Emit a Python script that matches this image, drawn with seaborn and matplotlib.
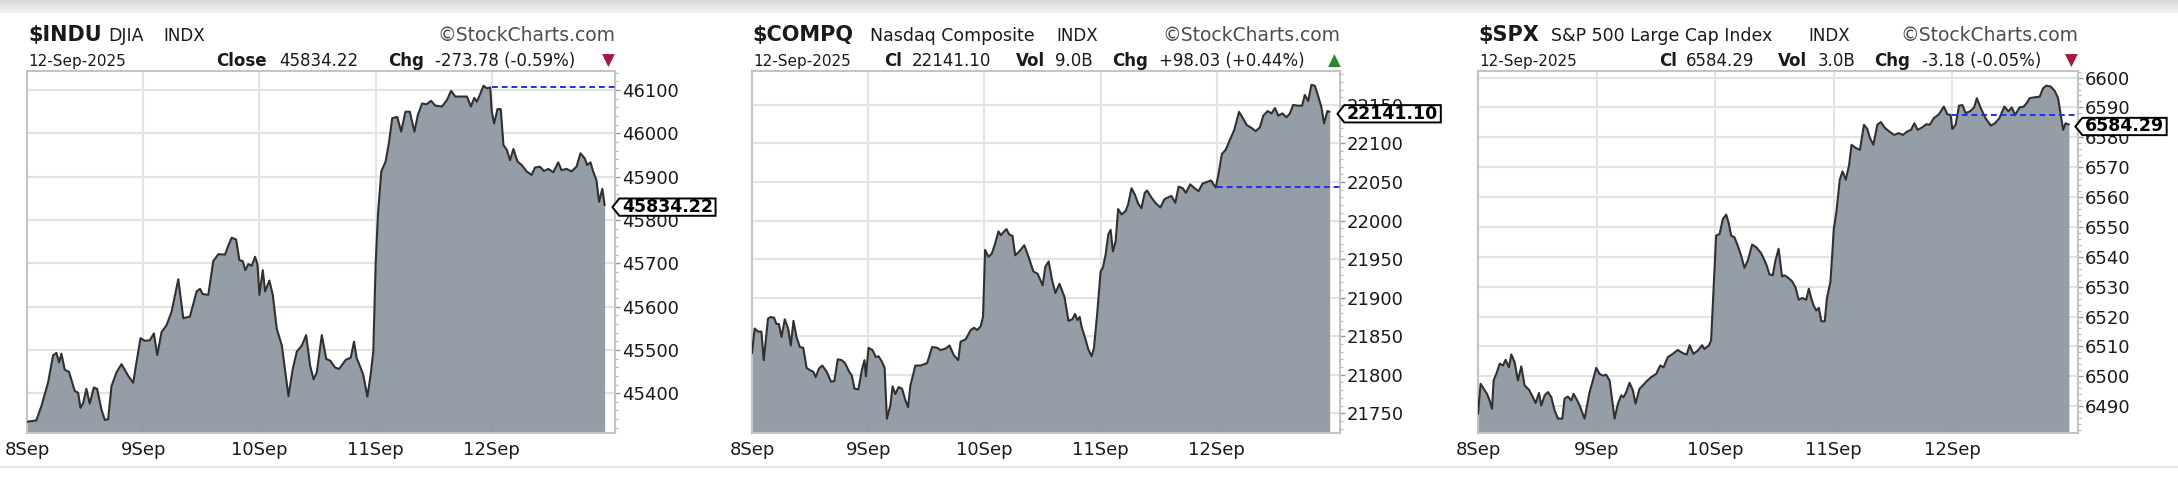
import matplotlib.pyplot as plt
import matplotlib.transforms as mtransforms
from matplotlib.path import Path
from matplotlib.lines import Line2D
from matplotlib.ticker import MultipleLocator, AutoMinorLocator, StrMethodFormatter
import numpy as np
import seaborn as sns

#%% data (x = trading days since 8 Sep open)
day_labels = ['8Sep', '9Sep', '10Sep', '11Sep', '12Sep']
date_str = '12-Sep-2025'

indu_t = [
    0.000, 0.080, 0.124, 0.181, 0.224, 0.253, 0.276, 0.296, 0.325, 0.362,
    0.411, 0.440, 0.460, 0.483, 0.511, 0.540, 0.575, 0.603, 0.641, 0.670,
    0.698, 0.727, 0.770, 0.813, 0.871, 0.914, 0.937, 0.977, 1.014, 1.057,
    1.092, 1.121, 1.158, 1.201, 1.244, 1.302, 1.345, 1.402, 1.460, 1.489,
    1.511, 1.560, 1.603, 1.647, 1.704, 1.733, 1.761, 1.799, 1.828, 1.856,
    1.879, 1.905, 1.934, 1.963, 1.983, 2.000, 2.029, 2.049, 2.086, 2.115,
    2.149, 2.193, 2.250, 2.287, 2.322, 2.365, 2.402, 2.437, 2.466, 2.494,
    2.537, 2.575, 2.609, 2.652, 2.686, 2.743, 2.786, 2.814, 2.837, 2.866,
    2.894, 2.929, 2.957, 2.980, 3.000, 3.020, 3.049, 3.086, 3.114, 3.143,
    3.186, 3.220, 3.257, 3.294, 3.334, 3.363, 3.400, 3.437, 3.477, 3.514,
    3.571, 3.614, 3.649, 3.686, 3.729, 3.786, 3.820, 3.849, 3.871, 3.894,
    3.929, 3.957, 3.986, 4.000, 4.020, 4.049, 4.077, 4.100, 4.129, 4.157,
    4.186, 4.220, 4.257, 4.300, 4.343, 4.371, 4.414, 4.449, 4.486, 4.529,
    4.571, 4.600, 4.643, 4.686, 4.729, 4.763, 4.800, 4.820, 4.849, 4.871,
    4.900, 4.923, 4.951, 4.971]
indu_px = [
    45334, 45337, 45370, 45424, 45487, 45493, 45471, 45491, 45454, 45449,
    45405, 45401, 45366, 45377, 45410, 45376, 45413, 45410, 45362, 45338,
    45340, 45416, 45448, 45467, 45440, 45424, 45463, 45527, 45521, 45522,
    45538, 45488, 45541, 45557, 45588, 45663, 45573, 45577, 45635, 45641,
    45629, 45627, 45705, 45721, 45720, 45741, 45759, 45755, 45707, 45705,
    45684, 45698, 45694, 45715, 45698, 45627, 45684, 45635, 45660, 45627,
    45549, 45510, 45393, 45456, 45496, 45510, 45534, 45463, 45432, 45448,
    45534, 45479, 45475, 45459, 45456, 45477, 45482, 45519, 45481, 45462,
    45442, 45392, 45442, 45496, 45696, 45812, 45912, 45935, 45977, 46035,
    46038, 46004, 46050, 46050, 46004, 46042, 46069, 46067, 46075, 46064,
    46062, 46077, 46098, 46085, 46085, 46085, 46062, 46082, 46073, 46087,
    46110, 46104, 46106, 46050, 46023, 46056, 46056, 45973, 45962, 45938,
    45964, 45935, 45927, 45912, 45904, 45921, 45923, 45913, 45918, 45910,
    45933, 45915, 45918, 45912, 45923, 45954, 45942, 45927, 45933, 45913,
    45892, 45842, 45872, 45834.22]
indu_close, indu_chg, indu_pct = 45834.22, -273.78, -0.59

compq_t = [
    0.000, 0.023, 0.052, 0.081, 0.101, 0.138, 0.161, 0.190, 0.210, 0.231,
    0.254, 0.282, 0.311, 0.334, 0.357, 0.383, 0.412, 0.441, 0.470, 0.499,
    0.527, 0.548, 0.576, 0.605, 0.643, 0.680, 0.709, 0.738, 0.772, 0.801,
    0.836, 0.859, 0.882, 0.916, 0.945, 0.968, 0.980, 1.003, 1.037, 1.066,
    1.089, 1.118, 1.141, 1.161, 1.190, 1.210, 1.233, 1.262, 1.291, 1.320,
    1.343, 1.363, 1.406, 1.450, 1.507, 1.550, 1.594, 1.622, 1.666, 1.700,
    1.738, 1.775, 1.795, 1.839, 1.882, 1.911, 1.939, 1.968, 1.988, 2.006,
    2.035, 2.063, 2.092, 2.121, 2.141, 2.170, 2.190, 2.213, 2.242, 2.265,
    2.300, 2.343, 2.380, 2.421, 2.458, 2.501, 2.524, 2.553, 2.582, 2.611,
    2.646, 2.689, 2.723, 2.757, 2.780, 2.800, 2.820, 2.837, 2.866, 2.894,
    2.923, 2.943, 2.971, 3.000, 3.020, 3.043, 3.066, 3.086, 3.106, 3.129,
    3.151, 3.180, 3.214, 3.237, 3.266, 3.294, 3.323, 3.351, 3.380, 3.400,
    3.437, 3.471, 3.514, 3.551, 3.580, 3.609, 3.643, 3.671, 3.706, 3.734,
    3.771, 3.809, 3.843, 3.877, 3.914, 3.951, 3.971, 3.991, 4.014, 4.043,
    4.077, 4.114, 4.151, 4.191, 4.220, 4.257, 4.300, 4.334, 4.371, 4.400,
    4.437, 4.471, 4.500, 4.529, 4.563, 4.600, 4.629, 4.657, 4.694, 4.734,
    4.757, 4.786, 4.814, 4.843, 4.871, 4.900, 4.923, 4.951, 4.971]
compq_px = [
    21828, 21860, 21856, 21856, 21819, 21873, 21875, 21874, 21866, 21866,
    21849, 21872, 21860, 21838, 21870, 21849, 21836, 21835, 21809, 21806,
    21804, 21797, 21808, 21812, 21804, 21791, 21792, 21820, 21819, 21815,
    21804, 21799, 21782, 21781, 21806, 21819, 21798, 21835, 21832, 21823,
    21824, 21817, 21809, 21743, 21760, 21785, 21775, 21784, 21782, 21767,
    21758, 21786, 21812, 21812, 21815, 21836, 21835, 21832, 21834, 21838,
    21825, 21819, 21843, 21846, 21858, 21861, 21858, 21863, 21875, 21962,
    21953, 21957, 21970, 21986, 21981, 21986, 21989, 21982, 21980, 21955,
    21960, 21968, 21953, 21934, 21931, 21916, 21940, 21947, 21923, 21906,
    21918, 21901, 21870, 21872, 21879, 21871, 21875, 21862, 21848, 21833,
    21824, 21835, 21880, 21934, 21939, 21956, 21982, 21988, 21960, 21973,
    22015, 22008, 22012, 22021, 22042, 22034, 22022, 22016, 22036, 22039,
    22030, 22023, 22017, 22028, 22030, 22032, 22023, 22044, 22042, 22036,
    22047, 22042, 22038, 22048, 22050, 22052, 22047, 22043, 22060, 22086,
    22092, 22105, 22118, 22141, 22134, 22124, 22120, 22116, 22121, 22136,
    22142, 22139, 22146, 22136, 22139, 22134, 22139, 22150, 22149, 22149,
    22163, 22155, 22176, 22175, 22162, 22147, 22126, 22142, 22141.10]
compq_close, compq_chg, compq_pct, compq_vol = 22141.10, 98.03, 0.44, '9.0B'

spx_t = [
    0.000, 0.022, 0.048, 0.076, 0.098, 0.118, 0.132, 0.160, 0.183, 0.211,
    0.233, 0.261, 0.281, 0.309, 0.337, 0.365, 0.393, 0.430, 0.463, 0.486,
    0.514, 0.534, 0.562, 0.590, 0.618, 0.646, 0.674, 0.711, 0.730, 0.758,
    0.787, 0.806, 0.829, 0.857, 0.899, 0.941, 0.969, 0.997, 1.025, 1.053,
    1.081, 1.110, 1.132, 1.152, 1.180, 1.208, 1.228, 1.250, 1.278, 1.306,
    1.329, 1.362, 1.390, 1.424, 1.461, 1.503, 1.537, 1.565, 1.601, 1.643,
    1.685, 1.728, 1.761, 1.784, 1.817, 1.854, 1.890, 1.910, 1.947, 1.966,
    2.008, 2.037, 2.065, 2.093, 2.115, 2.135, 2.163, 2.191, 2.219, 2.247,
    2.275, 2.312, 2.346, 2.388, 2.430, 2.458, 2.486, 2.507, 2.535, 2.564,
    2.584, 2.612, 2.649, 2.677, 2.705, 2.734, 2.768, 2.790, 2.810, 2.830,
    2.853, 2.875, 2.895, 2.924, 2.943, 2.972, 2.989, 3.000, 3.023, 3.051,
    3.074, 3.102, 3.130, 3.150, 3.187, 3.221, 3.255, 3.283, 3.306, 3.334,
    3.368, 3.397, 3.433, 3.470, 3.510, 3.547, 3.584, 3.618, 3.652, 3.680,
    3.708, 3.745, 3.782, 3.810, 3.844, 3.887, 3.929, 3.958, 3.986, 4.000,
    4.028, 4.057, 4.085, 4.113, 4.150, 4.184, 4.207, 4.241, 4.280, 4.326,
    4.360, 4.397, 4.439, 4.473, 4.501, 4.530, 4.567, 4.603, 4.632, 4.652,
    4.694, 4.737, 4.765, 4.793, 4.830, 4.864, 4.892, 4.915, 4.935, 4.955,
    4.983]
spx_px = [
    6487.4, 6497.5, 6495.8, 6494.1, 6491.9, 6489.1, 6498.6, 6501.4, 6504.2, 6503.6,
    6505.5, 6503.0, 6507.3, 6504.7, 6498.6, 6503.3, 6496.9, 6495.5, 6493.0, 6491.0,
    6494.4, 6490.2, 6493.6, 6494.7, 6493.0, 6488.6, 6485.8, 6485.8, 6492.5, 6493.2,
    6491.9, 6494.1, 6492.5, 6490.2, 6485.8, 6494.7, 6498.6, 6502.8, 6500.8, 6500.2,
    6500.5, 6498.6, 6491.9, 6485.8, 6490.8, 6493.6, 6493.0, 6494.7, 6497.8, 6495.3,
    6490.8, 6495.8, 6496.9, 6498.4, 6499.7, 6500.8, 6503.6, 6503.0, 6506.4, 6507.5,
    6508.8, 6507.7, 6507.3, 6510.4, 6507.5, 6508.6, 6510.4, 6509.1, 6510.3, 6512.0,
    6547.1, 6547.6, 6552.6, 6554.1, 6551.2, 6547.1, 6546.5, 6543.7, 6540.4, 6536.3,
    6538.7, 6544.1, 6543.2, 6541.2, 6537.6, 6534.1, 6533.8, 6538.5, 6542.7, 6533.4,
    6533.8, 6533.1, 6531.8, 6529.8, 6525.6, 6526.2, 6525.6, 6529.3, 6526.2, 6523.7,
    6522.0, 6522.9, 6518.4, 6518.4, 6526.2, 6531.6, 6541.8, 6549.1, 6555.2, 6565.8,
    6568.6, 6565.8, 6570.8, 6577.5, 6576.4, 6575.8, 6584.2, 6582.8, 6579.7, 6577.5,
    6584.2, 6585.1, 6583.1, 6581.9, 6580.8, 6581.4, 6580.8, 6581.9, 6582.5, 6584.7,
    6582.5, 6583.3, 6584.4, 6584.2, 6586.4, 6587.7, 6590.3, 6587.7, 6587.5, 6582.8,
    6584.2, 6590.6, 6590.8, 6588.1, 6588.7, 6590.0, 6593.1, 6589.7, 6586.4, 6583.9,
    6584.7, 6586.4, 6590.3, 6588.7, 6590.0, 6587.5, 6590.0, 6590.3, 6591.7, 6593.1,
    6593.4, 6593.6, 6596.4, 6597.3, 6597.0, 6595.5, 6593.1, 6587.5, 6582.5, 6584.7,
    6584.29]
spx_close, spx_chg, spx_pct, spx_vol = 6584.29, -3.18, -0.05, '3.0B'

#%% layout
W, H = 2178, 494
BOX_TOP, BOX_BOT = 71, 433
XMAX = 5.06
FILL = '#8a949d'
RED, GREEN = '#b0143c', '#2a8a2a'

sns.set_style('white')
plt.rcParams['font.family'] = ['DejaVu Sans']


def tag_box(x0, y0, width, height, mutation_size):
    # price tag with pointed left side
    px = 0.15 * mutation_size
    py = -0.02 * mutation_size
    x0, y0 = x0 - px, y0 - py
    x1, y1 = x0 + width + 2 * px, y0 + height + 2 * py
    ym = (y0 + y1) / 2
    tip = 0.4 * (y1 - y0)
    verts = [(x0 - tip, ym), (x0, y1), (x1, y1), (x1, y0), (x0, y0), (x0 - tip, ym)]
    return Path(verts, closed=True)


def chg_text(chg, pct):
    return f'{chg:+.2f} ({pct:+.2f}%)'


panels = [
    dict(t=indu_t, px=indu_px, close=indu_close, chg=indu_chg, box=(27, 615),
         ylim=(45308, 46144), step=100,
         head=[(28, '\\$INDU', 15, True), (108, 'DJIA', 12.5, False), (163, 'INDX', 12, False)],
         info=[(216, 'Close', True, None), (279, f'{indu_close:.2f}', False, None),
               (388, 'Chg', True, None), (435, chg_text(indu_chg, indu_pct), False, None),
               (602, '▼', False, RED)]),
    dict(t=compq_t, px=compq_px, close=compq_close, chg=compq_chg, box=(752, 1340),
         ylim=(21724.5, 22194), step=50,
         head=[(752, '\\$COMPQ', 15, True), (870, 'Nasdaq Composite', 12.5, False), (1056, 'INDX', 12, False)],
         info=[(884, 'Cl', True, None), (912, f'{compq_close:.2f}', False, None),
               (1016, 'Vol', True, None), (1055, compq_vol, False, None),
               (1112, 'Chg', True, None), (1159, chg_text(compq_chg, compq_pct), False, None),
               (1328, '▲', False, GREEN)]),
    dict(t=spx_t, px=spx_px, close=spx_close, chg=spx_chg, box=(1478, 2078),
         ylim=(6481.0, 6602.2), step=10,
         head=[(1478, '\\$SPX', 15, True), (1551, 'S&P 500 Large Cap Index', 12.5, False), (1808, 'INDX', 12, False)],
         info=[(1659, 'Cl', True, None), (1686, f'{spx_close:.2f}', False, None),
               (1778, 'Vol', True, None), (1818, spx_vol, False, None),
               (1874, 'Chg', True, None), (1922, chg_text(spx_chg, spx_pct), False, None),
               (2065, '▼', False, RED)]),
]

fig = plt.figure(figsize=(W / 100, H / 100), dpi=100)
pix = mtransforms.IdentityTransform()


def put(x, y_top, s, size, bold=False, color='#1a1a1a', ha='left'):
    fig.text(x, H - y_top, s, transform=pix, fontsize=size, ha=ha, va='baseline',
             fontweight='bold' if bold else 'normal', color=color)


# grey band at the top of the page
band = fig.add_axes([0, 1 - 13 / H, 1, 13 / H])
band.imshow(np.linspace(0.85, 0.95, 20).reshape(-1, 1), cmap='gray', vmin=0, vmax=1,
            aspect='auto', extent=[0, 1, 0, 1])
band.axis('off')

# thin line under the tick labels
fig.add_artist(Line2D([0, 1], [1 - 467 / H] * 2, transform=fig.transFigure,
                      color='#e0e0e0', lw=1.2))

#%% the three charts
for p in panels:
    l, r = p['box']
    ax = fig.add_axes([l / W, 1 - BOX_BOT / H, (r - l) / W, (BOX_BOT - BOX_TOP) / H])
    ylo, yhi = p['ylim']

    ax.fill_between(p['t'], p['px'], ylo, color=FILL, alpha=0.9, lw=0, zorder=2)
    sns.lineplot(x=p['t'], y=p['px'], ax=ax, color='#303030', linewidth=1.5, zorder=4)

    prev_close = p['close'] - p['chg']
    ax.hlines(prev_close, 4, XMAX, colors='#1f2fff', linestyles=(0, (3, 2)), lw=1.4, zorder=5)

    ax.set_xlim(0, XMAX)
    ax.set_ylim(ylo, yhi)
    ax.set_xlabel('')
    ax.set_ylabel('')
    ax.set_xticks(range(len(day_labels)), day_labels)
    ax.yaxis.tick_right()
    ax.yaxis.set_major_locator(MultipleLocator(p['step']))
    ax.yaxis.set_minor_locator(AutoMinorLocator(5))
    ax.yaxis.set_major_formatter(StrMethodFormatter('{x:.0f}'))
    ax.tick_params(axis='y', which='major', length=3.5, width=1, color='#999999',
                   pad=1.5, labelsize=13, labelcolor='#1a1a1a')
    ax.tick_params(axis='y', which='minor', length=2, width=0.8, color='#b5b5b5')
    ax.tick_params(axis='x', length=0, pad=5.5, labelsize=13, labelcolor='#1a1a1a')
    ax.grid(True, which='major', color='#e3e3e3', lw=1.5)
    ax.set_axisbelow(True)
    for sp in ax.spines.values():
        sp.set_color('#c4c4c4')
        sp.set_linewidth(1.5)

    ax.annotate(f"{p['close']:.2f}", xy=(1, p['close']), xycoords=('axes fraction', 'data'),
                xytext=(5, 0), textcoords='offset points', ha='left', va='center_baseline',
                fontsize=12.5, fontweight='bold', color='black',
                bbox=dict(boxstyle=tag_box, fc='white', ec='black', lw=1.4),
                annotation_clip=False, zorder=10)

    # header lines
    for x, s, size, bold in p['head']:
        put(x, 41, s, size, bold)
    put(r, 41, '©StockCharts.com', 13.5, color='#4d4d4d', ha='right')
    put(l + 1, 65.5, date_str, 11)
    for x, s, bold, color in p['info']:
        put(x, 65.5, s, 12, bold, color or '#1a1a1a')

fig.savefig('out.png', dpi=100, facecolor='white')
